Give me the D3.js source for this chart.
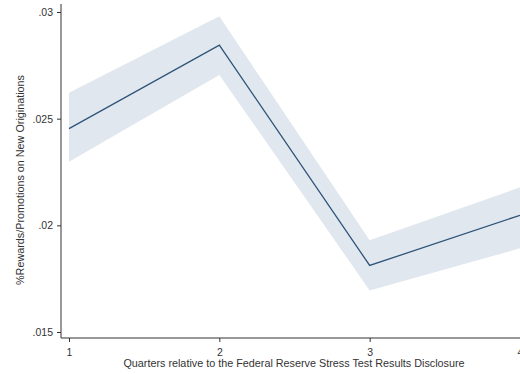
<!DOCTYPE html>
<html>
<head>
<meta charset="utf-8">
<script src="https://cdn.jsdelivr.net/npm/d3@7"></script>
<style>
  body { margin: 0; background: #fff; }
  text { font-family: "Liberation Sans", Arial, sans-serif; fill: #333; }
</style>
</head>
<body>
<div id="chart"></div>
<script>
// Data
const quarters = [1, 2, 3, 4];
const estimate = [0.02453, 0.02845, 0.01812, 0.02047];
const ciUpper  = [0.02622, 0.02980, 0.01930, 0.02178];
const ciLower  = [0.02298, 0.02705, 0.01695, 0.01892];
const yTicks = [0.015, 0.02, 0.025, 0.03];

const W = 520, H = 374;

const svg = d3.select("#chart").append("svg")
    .attr("width", W)
    .attr("height", H);

const x = d3.scaleLinear().domain([1, 4]).range([69, 520]);
const y = d3.scaleLinear().domain([0.015, 0.03]).range([332, 12]);

const rows = quarters.map((q, i) => ({ q, est: estimate[i], hi: ciUpper[i], lo: ciLower[i] }));

// Confidence band
const area = d3.area()
    .x(d => x(d.q))
    .y0(d => y(d.lo))
    .y1(d => y(d.hi));

svg.append("path")
    .datum(rows)
    .attr("d", area)
    .attr("fill", "#e1e7ee");

// Point estimate line
const line = d3.line()
    .x(d => x(d.q))
    .y(d => y(d.est));

svg.append("path")
    .datum(rows)
    .attr("d", line)
    .attr("fill", "none")
    .attr("stroke", "#2f5479")
    .attr("stroke-width", 1.3);

// Y axis
const yAxis = svg.append("g")
    .attr("transform", "translate(61,0)")
    .call(d3.axisLeft(y).tickValues(yTicks).tickSize(4).tickSizeOuter(0)
        .tickFormat(d => d3.format(".3~f")(d).replace(/^0/, "")));
yAxis.select(".domain").remove();
yAxis.append("line")
    .attr("x1", 0).attr("x2", 0)
    .attr("y1", 4).attr("y2", 338)
    .attr("stroke", "#333");
yAxis.selectAll(".tick line").attr("stroke", "#333");
yAxis.selectAll(".tick text")
    .attr("x", -8)
    .style("font-size", "10.5px")
    .style("font-family", "Liberation Sans, Arial, sans-serif")
    .attr("fill", "#333");

// X axis
const xAxis = svg.append("g")
    .attr("transform", "translate(0,338)")
    .call(d3.axisBottom(x).tickValues(quarters).tickSize(4).tickSizeOuter(0)
        .tickFormat(d3.format("d")));
xAxis.select(".domain").remove();
xAxis.append("line")
    .attr("x1", 61).attr("x2", 520)
    .attr("y1", 0).attr("y2", 0)
    .attr("stroke", "#333");
xAxis.selectAll(".tick line").attr("stroke", "#333");
xAxis.selectAll(".tick text")
    .attr("y", 11)
    .style("font-size", "10.5px")
    .style("font-family", "Liberation Sans, Arial, sans-serif")
    .attr("fill", "#333");

// Axis titles
svg.append("text")
    .attr("x", 294)
    .attr("y", 367)
    .attr("text-anchor", "middle")
    .style("font-size", "10.8px")
    .text("Quarters relative to the Federal Reserve Stress Test Results Disclosure");

svg.append("text")
    .attr("transform", "translate(24,180) rotate(-90)")
    .attr("text-anchor", "middle")
    .style("font-size", "10.8px")
    .text("%Rewards/Promotions on New Originations");
</script>
</body>
</html>
